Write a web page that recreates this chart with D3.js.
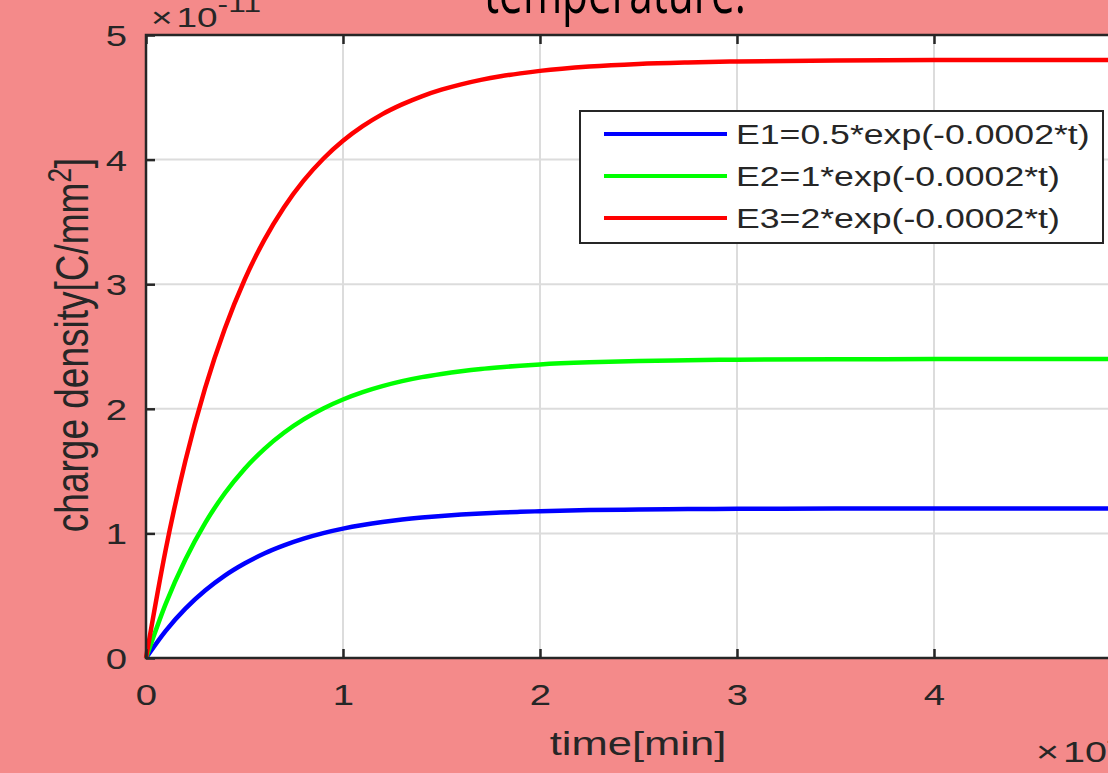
<!DOCTYPE html>
<meta charset="utf-8">
<style>
body { margin: 0; background: #f48a8a; overflow: hidden; }
svg { display: block; }
text { font-family: "Liberation Sans", Arial, sans-serif; fill: #262626; }
</style>
<body>
<div id="chart"></div>
<script src="https://cdn.jsdelivr.net/npm/d3@7"></script>
<script>

// time in units of 1e4 min, charge density in units of 1e-11 C/mm^2
var time = [0, 0.1, 0.2, 0.3, 0.4, 0.5, 0.6, 0.7, 0.8, 0.9, 1.0, 1.1, 1.2, 1.3, 1.4, 1.5, 1.6, 1.7, 1.8, 1.9, 2.0,
            2.25, 2.5, 2.75, 3.0, 3.5, 4.0, 4.5, 5.0];
var e1 = [0, 0.218, 0.396, 0.541, 0.661, 0.758, 0.839, 0.904, 0.958, 1.002, 1.038, 1.067, 1.091, 1.111, 1.127,
          1.140, 1.151, 1.160, 1.167, 1.173, 1.178, 1.187, 1.192, 1.195, 1.197, 1.199, 1.200, 1.200, 1.200];
var e2 = [0, 0.435, 0.791, 1.083, 1.322, 1.517, 1.677, 1.808, 1.915, 2.003, 2.075, 2.134, 2.182, 2.222, 2.254,
          2.280, 2.302, 2.320, 2.334, 2.346, 2.356, 2.373, 2.384, 2.390, 2.394, 2.398, 2.399, 2.400, 2.400];
var e3 = [0, 0.870, 1.583, 2.166, 2.643, 3.034, 3.354, 3.616, 3.831, 4.007, 4.151, 4.268, 4.365, 4.443, 4.508,
          4.561, 4.604, 4.640, 4.669, 4.692, 4.712, 4.747, 4.768, 4.780, 4.788, 4.796, 4.799, 4.800, 4.800];

var seriesNames = ["E1=0.5*exp(-0.0002*t)", "E2=1*exp(-0.0002*t)", "E3=2*exp(-0.0002*t)"];
var seriesColors = ["#0000ff", "#00ff00", "#ff0000"];
var xTicks = [0, 1, 2, 3, 4, 5];
var yTicks = [0, 1, 2, 3, 4, 5];

var width = 1108;
var height = 773;
var stretch = 1.32;   // the source picture is stretched sideways

var svg = d3.select("#chart").append("svg")
    .attr("width", width).attr("height", height);

var x = d3.scaleLinear().domain([0, 5]).range([146, 1131]);
var y = d3.scaleLinear().domain([0, 5]).range([658, 35]);

// title, mostly cut off at the top
svg.append("text")
   .attr("x", 484).attr("y", 13)
   .attr("textLength", 262).attr("lengthAdjust", "spacingAndGlyphs")
   .style("font-family", "'Open Sans', sans-serif")
   .style("font-size", "60px")
   .style("fill", "#000")
   .text("temperature:");

// plot area
svg.append("rect")
   .attr("x", x(0)).attr("y", y(5))
   .attr("width", x(5) - x(0)).attr("height", y(0) - y(5))
   .attr("fill", "#fff");

// grid
var gridG = svg.append("g").attr("stroke", "#dcdcdc").attr("stroke-width", 2);
gridG.selectAll("line.v").data(xTicks.slice(1, -1)).enter().append("line")
     .attr("x1", function(d) { return x(d); }).attr("x2", function(d) { return x(d); })
     .attr("y1", y(0)).attr("y2", y(5));
gridG.selectAll("line.h").data(yTicks.slice(1, -1)).enter().append("line")
     .attr("y1", function(d) { return y(d); }).attr("y2", function(d) { return y(d); })
     .attr("x1", x(0)).attr("x2", x(5));

// curves
var series = [e1, e2, e3];
var line = d3.line()
    .x(function(d) { return x(d[0]); })
    .y(function(d) { return y(d[1]); })
    .curve(d3.curveMonotoneX);

svg.append("g").selectAll("path")
   .data(series)
   .enter()
   .append("path")
   .attr("d", function(s) { return line(time.map(function(t, i) { return [t, s[i]]; })); })
   .attr("fill", "none")
   .attr("stroke", function(d, i) { return seriesColors[i]; })
   .attr("stroke-width", 4.5);

// axes (ticks point inward)
function styleAxis(g) {
  g.select(".domain").remove();
  g.selectAll(".tick line").attr("stroke", "#262626").attr("stroke-width", 2.5);
  g.selectAll("text").style("font-size", "29px").style("fill", "#262626");
}

svg.append("g").attr("transform", "translate(0," + y(0) + ")")
   .call(d3.axisBottom(x).tickValues(xTicks).tickSize(-9).tickPadding(0).tickFormat(d3.format("d")))
   .call(styleAxis)
   .selectAll("text")
   .attr("y", 47).attr("dy", 0)
   .attr("transform", "scale(" + stretch + ",1)");

svg.append("g").attr("transform", "translate(0," + y(5) + ")")
   .call(d3.axisTop(x).tickValues(xTicks).tickSize(-9).tickFormat(""))
   .call(styleAxis);

svg.append("g").attr("transform", "translate(" + x(0) + ",0)")
   .call(d3.axisLeft(y).tickValues(yTicks).tickSize(-9).tickPadding(0).tickFormat(d3.format("d")))
   .call(styleAxis)
   .selectAll("text")
   .attr("x", -19 / stretch).attr("dy", "0.36em")
   .attr("transform", "scale(" + stretch + ",1)");

svg.append("g").attr("transform", "translate(" + x(5) + ",0)")
   .call(d3.axisRight(y).tickValues(yTicks).tickSize(-9).tickFormat(""))
   .call(styleAxis);

// box
svg.append("rect")
   .attr("x", x(0)).attr("y", y(5))
   .attr("width", x(5) - x(0)).attr("height", y(0) - y(5))
   .attr("fill", "none")
   .attr("stroke", "#262626")
   .attr("stroke-width", 2.5);

// exponent labels
var expTop = svg.append("text")
   .attr("transform", "translate(151,27) scale(" + stretch + ",1)")
   .style("font-size", "28px");
expTop.append("tspan").text("\u00d7");
expTop.append("tspan").attr("dx", 3).text("10");
expTop.append("tspan").attr("dy", -15).style("font-size", "24px").text("-11");

var expBottom = svg.append("text")
   .attr("transform", "translate(1036,762) scale(" + stretch + ",1)")
   .style("font-size", "30px");
expBottom.append("tspan").text("\u00d7");
expBottom.append("tspan").attr("dx", 3).text("10");
expBottom.append("tspan").attr("dy", -15).style("font-size", "24px").text("4");

// axis labels
svg.append("text")
   .attr("transform", "translate(638,755) scale(" + stretch + ",1)")
   .attr("text-anchor", "middle")
   .style("font-size", "33px")
   .text("time[min]");

var yLab = svg.append("text")
   .attr("transform", "translate(88,345) rotate(-90) scale(1,1.25)")
   .attr("text-anchor", "middle")
   .style("font-size", "37px");
yLab.append("tspan").text("charge density[C/mm");
yLab.append("tspan").attr("dy", -14).style("font-size", "26px").text("2");
yLab.append("tspan").attr("dy", 14).text("]");

// legend
var legendG = svg.append("g");
legendG.append("rect")
   .attr("x", 580).attr("y", 111)
   .attr("width", 523).attr("height", 132)
   .attr("fill", "#fff")
   .attr("stroke", "#262626")
   .attr("stroke-width", 2);

var rows = legendG.selectAll("g.row")
   .data(seriesNames)
   .enter()
   .append("g")
   .attr("transform", function(d, i) { return "translate(0," + (134 + i * 42) + ")"; });

rows.append("line")
    .attr("x1", 604).attr("x2", 727)
    .attr("stroke", function(d, i) { return seriesColors[i]; })
    .attr("stroke-width", 4);

rows.append("text")
    .attr("transform", "translate(736,9.5) scale(" + stretch + ",1)")
    .style("font-size", "27px")
    .text(function(d) { return d; });

</script>
